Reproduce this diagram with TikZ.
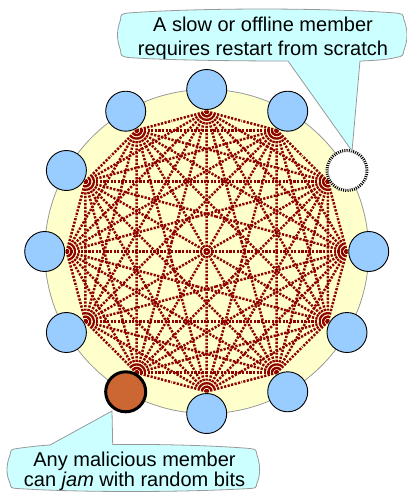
\documentclass[tikz,border=0pt]{standalone}
\usepackage{fontspec}
\setmainfont{Liberation Sans}
\usetikzlibrary{calc}
\definecolor{diskfill}{HTML}{FFFFCC}
\definecolor{memberfill}{HTML}{99CCFF}
\definecolor{badfill}{HTML}{CC6633}
\definecolor{linkc}{HTML}{8F0000}
\definecolor{bubblefill}{HTML}{CCFFFF}
\definecolor{greyedge}{HTML}{999999}
\begin{document}
\begin{tikzpicture}[x=1pt,y=-1pt,
  linkline/.style={draw=linkc, line width=2.5pt, dash pattern=on 2.2pt off 1.4pt},
  memberbox/.style={circle, draw=black, line width=0.9pt, fill=memberfill, minimum size=40pt, inner sep=0pt},
  slowbox/.style={circle, draw=black, line width=3pt, dash pattern=on 1pt off 1.2pt, fill=white, minimum size=40pt, inner sep=0pt},
  badbox/.style={circle, draw=black, line width=3pt, fill=badfill, minimum size=40pt, inner sep=0pt},
  diskbox/.style={circle, draw=greyedge, line width=0.8pt, fill=diskfill, minimum size=324pt, inner sep=0pt},
  callout/.style={draw=greyedge, line width=0.8pt, fill=bubblefill},
  txt/.style={anchor=base, inner sep=0pt, font=\fontsize{20}{24}\selectfont}]
\useasboundingbox (0,0) rectangle (407,493);
\coordinate (O) at (206.7,251.5);
\node[diskbox] (disk) at (O) {};
\foreach \i in {1,...,12}{
  \pgfmathsetmacro\ang{-(\i-1)*30}
  \coordinate (c\i) at ($(O)+(\ang:140)$);
  \coordinate (p\i) at ($(O)+(\ang:162)$);
}
\foreach \i in {1,...,11}{
  \pgfmathtruncatemacro\nx{\i+1}
  \foreach \j in {\nx,...,12}{
    \coordinate (mid) at ($(c\i)!0.5!(c\j)$);
    \draw[linkline] (c\i) -- (mid);
    \draw[linkline] (c\j) -- (mid);
  }
}
\foreach \i in {1,3,4,5,6,7,8,10,11,12}
  \node[memberbox] (m\i) at (p\i) {};
\node[slowbox] (m2) at (p2) {};
\node[badbox] (m9) at (p9) {};
% top callout
\coordinate (tipA) at (352,151);
\draw[callout] (288,61) -- (tipA) -- (360,61)
  .. controls (376,60.5) and (388,59.5) .. (396,57.5)
  .. controls (403,56) .. (404,50)
  .. controls (408,40) and (408,30) .. (404,20)
  .. controls (403,14) .. (396,13)
  .. controls (324,7.7) and (200,7.7) .. (128,13)
  .. controls (121,14) .. (120.5,20)
  .. controls (116.5,30) and (116.5,40) .. (120.5,50)
  .. controls (121,56) .. (128,57.5)
  .. controls (170,60.5) and (250,61) .. (288,61) -- cycle;
\node[txt] (la1) at (263,31.7) {A slow or offline member};
\node[txt] (la2) at (263,55) {requires restart from scratch};
% bottom callout
\coordinate (tipB) at (112,411);
\draw[callout] (50,445) -- (tipB) -- (112.7,444.5)
  .. controls (170,444) and (220,446) .. (250,448.5)
  .. controls (256,449.5) .. (257,455)
  .. controls (260.5,465) and (260.5,475) .. (257,483)
  .. controls (256,488) .. (250,488.5)
  .. controls (180,492.5) and (80,492.5) .. (17,488.5)
  .. controls (11,488) .. (10,483)
  .. controls (6,475) and (6,465) .. (10,455)
  .. controls (11,449.5) .. (17,448.5)
  .. controls (28,447) and (40,445.5) .. (50,445) -- cycle;
\node[txt] (lb1) at (134.5,466.7) {Any malicious member};
\node[txt] (lb2) at (134.5,486.7) {can \textit{jam} with random bits};
\end{tikzpicture}
\end{document}
